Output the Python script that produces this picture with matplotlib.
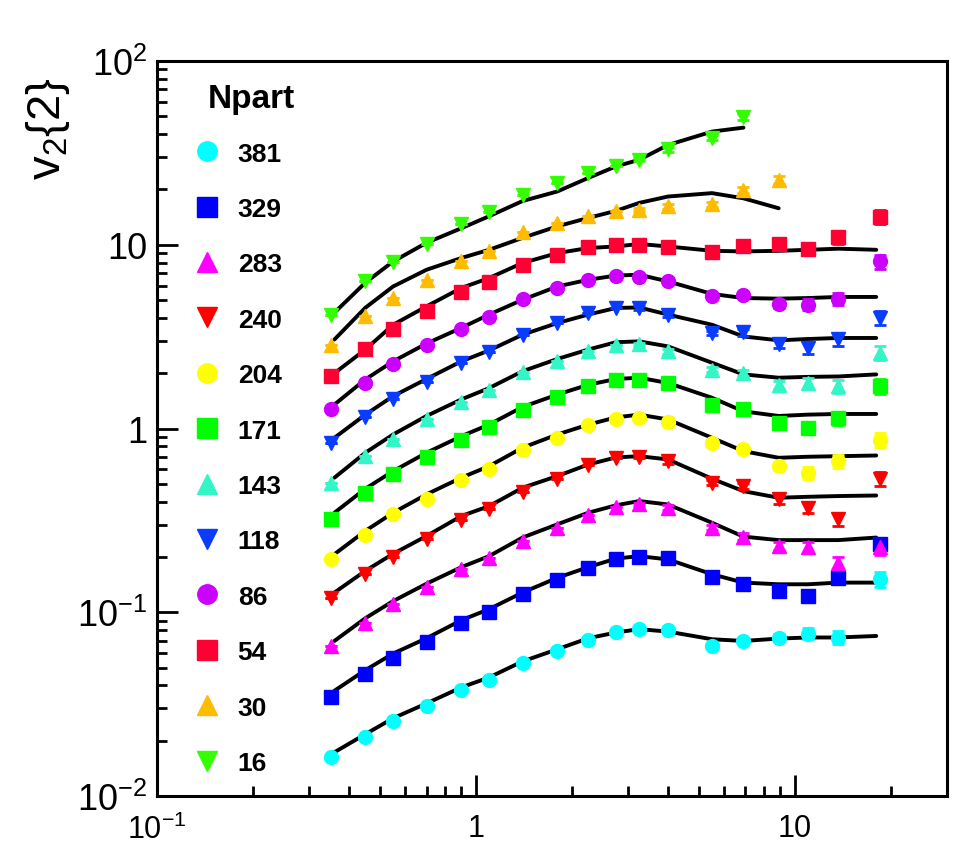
import math
import matplotlib
matplotlib.use("Agg")
import matplotlib.pyplot as plt
from matplotlib.ticker import LogLocator, FuncFormatter, NullFormatter

plt.rcParams['font.family'] = ['Liberation Sans', 'DejaVu Sans']
plt.rcParams['mathtext.default'] = 'regular'

# pT positions of the measured points and of the fit curves
pt = [0.35, 0.45, 0.55, 0.7, 0.9, 1.1, 1.4, 1.8, 2.25, 2.75, 3.25, 4.0, 5.5, 6.9, 8.9, 11.0, 13.7, 18.5]
pt_fit = [0.36, 0.45, 0.55, 0.7, 0.9, 1.1, 1.4, 1.8, 2.25, 2.75, 3.25, 4.0, 5.5, 6.9, 8.9, 11.0, 13.7, 18.0]

# relative errors per pT column (only visible at high pT)
rel_err = [0.0, 0.0, 0.0, 0.0, 0.0, 0.0, 0.0, 0.0, 0.0, 0.0, 0.02, 0.03, 0.03, 0.04, 0.05, 0.07, 0.08, 0.09]

npart = ['381', '329', '283', '240', '204', '171', '143', '118', '86', '54', '30', '16']

v2_381 = [0.0164, 0.0210, 0.0257, 0.0307, 0.0378, 0.0429, 0.0528, 0.0616, 0.0704, 0.0776, 0.0809, 0.0802, 0.0656, 0.0698, 0.0728, 0.0766, 0.0728, 0.151]
v2_329 = [0.0347, 0.0460, 0.0567, 0.0693, 0.0879, 0.100, 0.125, 0.149, 0.175, 0.194, 0.200, 0.197, 0.156, 0.143, 0.130, 0.123, 0.154, 0.234]
v2_283 = [0.0656, 0.0879, 0.1105, 0.137, 0.171, 0.197, 0.244, 0.289, 0.337, 0.373, 0.386, 0.371, 0.289, 0.258, 0.229, 0.226, 0.186, 0.226]
v2_240 = [0.119, 0.162, 0.200, 0.251, 0.316, 0.366, 0.451, 0.533, 0.630, 0.687, 0.702, 0.664, 0.507, 0.486, 0.411, 0.371, 0.320, 0.533]
v2_204 = [0.194, 0.262, 0.341, 0.415, 0.524, 0.604, 0.762, 0.890, 1.04, 1.13, 1.14, 1.08, 0.836, 0.769, 0.624, 0.574, 0.664, 0.871]
v2_171 = [0.323, 0.447, 0.562, 0.702, 0.871, 1.02, 1.26, 1.49, 1.70, 1.83, 1.84, 1.76, 1.35, 1.28, 1.07, 1.01, 1.14, 1.70]
v2_143 = [0.507, 0.707, 0.879, 1.12, 1.39, 1.63, 2.02, 2.34, 2.63, 2.86, 2.88, 2.63, 2.09, 2.01, 1.73, 1.77, 1.70, 2.58]
v2_118 = [0.829, 1.15, 1.45, 1.80, 2.27, 2.60, 3.24, 3.75, 4.25, 4.51, 4.53, 4.17, 3.31, 3.34, 2.90, 2.75, 3.07, 4.01]
v2_86 = [1.27, 1.77, 2.25, 2.83, 3.48, 4.03, 5.09, 5.82, 6.45, 6.73, 6.64, 6.37, 5.28, 5.35, 4.76, 4.72, 5.09, 8.11]
v2_54 = [1.94, 2.72, 3.50, 4.38, 5.50, 6.27, 7.72, 8.83, 9.67, 10.0, 10.0, 9.67, 9.08, 9.79, 10.1, 9.48, 10.96, 14.25]
v2_30 = [2.86, 4.08, 5.13, 6.45, 8.18, 9.28, 11.7, 13.1, 14.4, 15.2, 15.5, 16.2, 16.6, 19.9, 22.6]
v2_16 = [4.17, 6.37, 8.01, 10.1, 13.0, 15.1, 18.7, 21.6, 24.5, 27.0, 29.0, 33.1, 38.3, 49.8]

fit_381 = [0.0173, 0.0217, 0.0265, 0.0319, 0.0390, 0.0442, 0.0540, 0.0629, 0.0722, 0.0776, 0.0809, 0.0785, 0.0713, 0.0698, 0.0719, 0.0729, 0.0729, 0.0743]
fit_329 = [0.0374, 0.0484, 0.0596, 0.0722, 0.0905, 0.104, 0.128, 0.154, 0.176, 0.196, 0.202, 0.194, 0.161, 0.145, 0.142, 0.142, 0.145, 0.145]
fit_283 = [0.0698, 0.0928, 0.115, 0.143, 0.176, 0.202, 0.255, 0.301, 0.348, 0.382, 0.403, 0.386, 0.307, 0.258, 0.247, 0.247, 0.247, 0.255]
fit_240 = [0.128, 0.168, 0.208, 0.260, 0.334, 0.378, 0.476, 0.551, 0.637, 0.696, 0.707, 0.679, 0.533, 0.456, 0.420, 0.425, 0.429, 0.432]
fit_204 = [0.207, 0.277, 0.348, 0.438, 0.540, 0.624, 0.786, 0.928, 1.05, 1.15, 1.19, 1.12, 0.890, 0.753, 0.693, 0.702, 0.707, 0.713]
fit_171 = [0.348, 0.470, 0.586, 0.738, 0.908, 1.05, 1.31, 1.53, 1.73, 1.86, 1.89, 1.77, 1.47, 1.24, 1.17, 1.19, 1.20, 1.20]
fit_143 = [0.540, 0.738, 0.928, 1.17, 1.44, 1.66, 2.05, 2.39, 2.69, 2.95, 2.98, 2.80, 2.28, 1.97, 1.89, 1.91, 1.92, 1.97]
fit_118 = [0.890, 1.19, 1.50, 1.86, 2.32, 2.66, 3.24, 3.75, 4.17, 4.53, 4.56, 4.17, 3.67, 3.17, 3.02, 3.07, 3.11, 3.11]
fit_86 = [1.35, 1.85, 2.32, 2.90, 3.53, 4.17, 5.02, 5.93, 6.45, 6.80, 6.87, 6.32, 5.40, 5.13, 5.09, 5.13, 5.20, 5.20]
fit_54 = [2.00, 2.69, 3.67, 4.62, 5.82, 6.59, 7.96, 9.01, 9.60, 9.79, 10.1, 9.79, 9.27, 9.20, 9.27, 9.39, 9.52, 9.39]
fit_30 = [3.05, 4.54, 5.93, 7.31, 8.47, 9.39, 10.9, 12.6, 14.0, 15.3, 16.9, 18.3, 19.1, 17.9, 15.8]
fit_16 = [4.27, 6.22, 8.11, 10.25, 12.3, 14.3, 17.3, 19.5, 23.1, 26.7, 29.0, 34.9, 41.3, 43.4]

points = [v2_381, v2_329, v2_283, v2_240, v2_204, v2_171, v2_143, v2_118, v2_86, v2_54, v2_30, v2_16]
fits = [fit_381, fit_329, fit_283, fit_240, fit_204, fit_171, fit_143, fit_118, fit_86, fit_54, fit_30, fit_16]

colors = ['#00FFFF', '#0000FF', '#FF00FF', '#FF0000', '#FFFF00', '#00FF00',
          '#33F5C5', '#0A3CFF', '#CC00FF', '#FF0033', '#FFBB00', '#33FF00']
markers = ['o', 's', '^', 'v', 'o', 's', '^', 'v', 'o', 's', '^', 'v']

fig = plt.figure(figsize=(9.55, 8.45), dpi=100)
ax = fig.add_axes([0.1644, 0.0568, 0.8272, 0.8698])

# fit curves first, markers on top
for y_fit in fits:
    ax.plot(pt_fit[:len(y_fit)], y_fit, color='black', lw=2.8, zorder=2,
            solid_capstyle='round')

for y, c, m, lab in zip(points, colors, markers, npart):
    n = len(y)
    err = [v * e for v, e in zip(y, rel_err[:n])]
    ax.errorbar(pt[:n], y, yerr=err, fmt=m, color=c, ms=10, mec=c,
                elinewidth=2, capsize=4, capthick=2, label=lab, zorder=3)

ax.set_xscale('log')
ax.set_yscale('log')
ax.set_xlim(0.1, 30)
ax.set_ylim(0.01, 100)


def fmt_log(v, pos):
    if abs(v - 1) < 1e-9:
        return '1'
    if abs(v - 10) < 1e-9:
        return '10'
    e = int(round(math.log10(v)))
    return r'$\mathregular{10^{%d}}$' % e


for axis in (ax.xaxis, ax.yaxis):
    axis.set_major_locator(LogLocator(base=10, numticks=10))
    axis.set_minor_locator(LogLocator(base=10, subs=range(2, 10), numticks=20))
    axis.set_major_formatter(FuncFormatter(fmt_log))
    axis.set_minor_formatter(NullFormatter())

ax.tick_params(which='both', direction='in', top=False, right=False, width=2, labelsize=26)
ax.tick_params(which='major', length=15)
ax.tick_params(which='minor', length=7)
ax.tick_params(axis='y', pad=7)
ax.tick_params(axis='x', pad=12.5, labelsize=22)
for sp in ax.spines.values():
    sp.set_linewidth(2.2)

fig.text(0.050, 0.848, r'$\mathregular{v_{2}\{2\}}$', rotation=90, fontsize=34,
         ha='center', va='center')

# legend
handles, labels = ax.get_legend_handles_labels()
handles = [h[0] for h in handles]
leg = ax.legend(handles, labels, loc='upper left', bbox_to_anchor=(0.047, 0.8905),
                frameon=False, borderpad=0, borderaxespad=0, handlelength=1.0,
                handletextpad=0.65, labelspacing=1.19, markerscale=1.4,
                prop={'weight': 'bold', 'size': 19})
ax.text(0.0646, 0.9496, 'Npart', transform=ax.transAxes, fontsize=24,
        fontweight='bold', ha='left', va='center')

fig.savefig('out.png', dpi=100)
